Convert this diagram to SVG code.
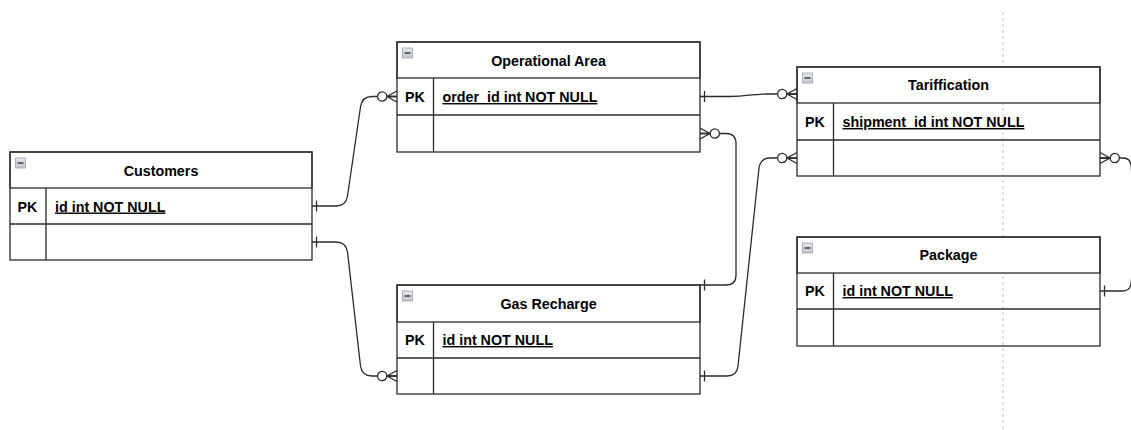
<svg xmlns="http://www.w3.org/2000/svg" xmlns:xlink="http://www.w3.org/1999/xlink" width="1131" height="430" viewBox="0 0 1131 430">
  <style>
    .frame { fill: none; stroke: #2b2b2b; stroke-width: 1.3; }
    .head { fill: #ffffff; stroke: #2b2b2b; stroke-width: 1.3; }
    .sep { stroke: #2b2b2b; stroke-width: 1.3; }
    .title { font-family: "Liberation Sans", Arial, Helvetica, sans-serif; font-weight: bold; font-size: 14.3px; fill: #000; text-anchor: middle; }
    .key { font-family: "Liberation Sans", Arial, Helvetica, sans-serif; font-weight: bold; font-size: 14.3px; fill: #000; text-anchor: middle; }
    .field { font-family: "Liberation Sans", Arial, Helvetica, sans-serif; font-weight: bold; font-size: 14.3px; fill: #000; text-decoration: underline; }
    .edge { fill: none; stroke: #2b2b2b; stroke-width: 1.3; }
    .guide { stroke: #c4c4c4; stroke-width: 1; stroke-dasharray: 3 3; }
  </style>
  <defs>
    <linearGradient id="btnFill" x1="0" y1="0" x2="0" y2="1">
      <stop offset="0" stop-color="#e4e7ec"/>
      <stop offset="1" stop-color="#c3c8d1"/>
    </linearGradient>
    <!-- collapse button in each table header -->
    <g id="collapse">
      <rect x="0" y="0" width="10" height="10" fill="url(#btnFill)" stroke="#9aa2ae" stroke-width="0.8"/>
      <line x1="2" y1="5" x2="8" y2="5" stroke="#333" stroke-width="1.4"/>
    </g>
    <!-- ER notation: exactly one -->
    <marker id="erOne" markerUnits="userSpaceOnUse" viewBox="-20 -10 20 20" refX="0" refY="0" markerWidth="20" markerHeight="20" orient="auto-start-reverse" overflow="visible">
      <line x1="-4.5" y1="-5.5" x2="-4.5" y2="5.5" stroke="#2b2b2b" stroke-width="1.3"/>
    </marker>
    <!-- ER notation: zero to many -->
    <marker id="erZeroMany" markerUnits="userSpaceOnUse" viewBox="-20 -10 20 20" refX="0" refY="0" markerWidth="20" markerHeight="20" orient="auto-start-reverse" overflow="visible">
      <path d="M0,-5.5 L-10,0 L0,5.5 M-10,0 L0,0" fill="none" stroke="#2b2b2b" stroke-width="1.3"/>
      <circle cx="-14.8" cy="0" r="4.6" fill="#fff" stroke="#2b2b2b" stroke-width="1.3"/>
    </marker>
  </defs>

  <rect x="0" y="0" width="1131" height="430" fill="#ffffff"/>

  <!-- page break guide -->
  <line class="guide" x1="1003" y1="12" x2="1003" y2="430"/>

  <!-- relationships -->
  <g id="connectors">
    <path class="edge" d="M312,206 H336 Q346,206 347.5,196 L360.5,107 Q362,96.5 372,96.5 H397" marker-start="url(#erOne)" marker-end="url(#erZeroMany)"/>
    <path class="edge" d="M312,242 H336 Q346,242 347.5,252 L360.5,366 Q362,376 372,376 H397" marker-start="url(#erOne)" marker-end="url(#erZeroMany)"/>
    <path class="edge" d="M700,96.5 H730 C748,96.5 750,94 767,94 H797" marker-start="url(#erOne)" marker-end="url(#erZeroMany)"/>
    <path class="edge" d="M700,285 H726 Q736,285 736,275 V143.5 Q736,133.5 726,133.5 H700" marker-start="url(#erOne)" marker-end="url(#erZeroMany)"/>
    <path class="edge" d="M700,376 H727 Q737,376 738,366 L759,168 Q760.5,158 770,158 H797" marker-start="url(#erOne)" marker-end="url(#erZeroMany)"/>
    <path class="edge" d="M1100,158 H1123 Q1130,158 1131,165 L1132,175" marker-start="url(#erZeroMany)"/>
    <path class="edge" d="M1100,291 H1122 Q1130,291 1131,284 L1132,274" marker-start="url(#erOne)"/>
  </g>

  <!-- Customers -->
  <g id="customers">
    <rect class="head" x="10" y="152" width="302" height="36"/>
    <use xlink:href="#collapse" x="15.5" y="158"/>
    <text class="title" x="161" y="175.5">Customers</text>
    <rect class="frame" x="10" y="152" width="302" height="108"/>
    <line class="sep" x1="10" y1="224" x2="312" y2="224"/>
    <line class="sep" x1="46" y1="188" x2="46" y2="260"/>
    <text class="key" x="27.5" y="211.5">PK</text>
    <text class="field" x="55" y="211.5">id int NOT NULL</text>
  </g>

  <!-- Operational Area -->
  <g id="operational-area">
    <rect class="head" x="397" y="42" width="303" height="36"/>
    <use xlink:href="#collapse" x="402.5" y="48"/>
    <text class="title" x="548.5" y="66">Operational Area</text>
    <rect class="frame" x="397" y="42" width="303" height="110"/>
    <line class="sep" x1="397" y1="115" x2="700" y2="115"/>
    <line class="sep" x1="433.5" y1="78" x2="433.5" y2="152"/>
    <text class="key" x="415" y="102">PK</text>
    <text class="field" x="442.5" y="102">order_id int NOT NULL</text>
  </g>

  <!-- Gas Recharge -->
  <g id="gas-recharge">
    <rect class="head" x="397" y="285" width="303" height="37"/>
    <use xlink:href="#collapse" x="402.5" y="291"/>
    <text class="title" x="548.5" y="309">Gas Recharge</text>
    <rect class="frame" x="397" y="285" width="303" height="109"/>
    <line class="sep" x1="397" y1="358" x2="700" y2="358"/>
    <line class="sep" x1="433.5" y1="322" x2="433.5" y2="394"/>
    <text class="key" x="415" y="345">PK</text>
    <text class="field" x="442.5" y="345">id int NOT NULL</text>
  </g>

  <!-- Tariffication -->
  <g id="tariffication">
    <rect class="head" x="797" y="67" width="303" height="36"/>
    <use xlink:href="#collapse" x="802.5" y="73"/>
    <text class="title" x="948.5" y="90">Tariffication</text>
    <rect class="frame" x="797" y="67" width="303" height="109"/>
    <line class="sep" x1="797" y1="140" x2="1100" y2="140"/>
    <line class="sep" x1="833.5" y1="103" x2="833.5" y2="176"/>
    <text class="key" x="815" y="127">PK</text>
    <text class="field" x="842.5" y="127">shipment_id int NOT NULL</text>
  </g>

  <!-- Package -->
  <g id="package">
    <rect class="head" x="797" y="237" width="303" height="36"/>
    <use xlink:href="#collapse" x="802.5" y="243"/>
    <text class="title" x="948.5" y="260">Package</text>
    <rect class="frame" x="797" y="237" width="303" height="109"/>
    <line class="sep" x1="797" y1="309" x2="1100" y2="309"/>
    <line class="sep" x1="833.5" y1="273" x2="833.5" y2="346"/>
    <text class="key" x="815" y="296">PK</text>
    <text class="field" x="842.5" y="296">id int NOT NULL</text>
  </g>
</svg>
